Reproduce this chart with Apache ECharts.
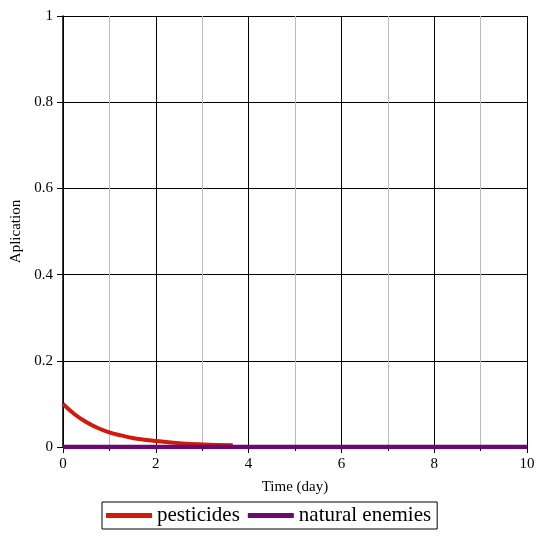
<!DOCTYPE html>
<html>
<head>
<meta charset="utf-8">
<script src="https://cdn.jsdelivr.net/npm/echarts@6/dist/echarts.min.js"></script>
<style>
    html, body {margin: 0; padding: 0; background: #fff;}
    #main {width: 550px; height: 542px;}
</style>
</head>
<body>
<div id="main"></div>
<script>
// 数据
var seriesNames = ['pesticides', 'natural enemies'];
var pestTime = [0, 0.25, 0.5, 0.75, 1, 1.25, 1.5, 1.75, 2, 2.5, 3, 3.66];
var pestValue = [0.100, 0.076, 0.058, 0.044, 0.034, 0.027, 0.021, 0.017, 0.014, 0.009, 0.006, 0.004];
var enemyTime = [0, 10];
var enemyValue = [0, 0];
var yTicks = ['0', '0.2', '0.4', '0.6', '0.8', '1'];

function pairs(xs, ys) {
    var out = [];
    for (var i = 0; i < xs.length; i++) {
        out.push([xs[i], ys[i]]);
    }
    return out;
}

var myChart = echarts.init(document.getElementById('main'));
var font = '"Liberation Serif", "Times New Roman", serif';

var option = {
    animation: false,
    grid: {left: 63, right: 23, top: 16, bottom: 95},
    legend: {
        data: seriesNames,
        left: 102,
        top: 502,
        itemWidth: 46,
        itemHeight: 5,
        itemGap: 8,
        padding: [3, 6, 3, 4],
        borderColor: '#000',
        borderWidth: 1,
        icon: 'rect',
        textStyle: {fontFamily: font, fontSize: 21, color: '#000', padding: [0, 0, 0, 0]}
    },
    xAxis: {
        type: 'value',
        min: 0,
        max: 10,
        interval: 2,
        name: 'Time (day)',
        nameLocation: 'middle',
        nameGap: 33,
        nameTextStyle: {fontFamily: font, fontSize: 15, color: '#000'},
        axisLine: {onZero: false, lineStyle: {color: '#000', width: 1.5}},
        axisTick: {length: 6, lineStyle: {color: '#000'}},
        minorTick: {show: true, splitNumber: 2, length: 4, lineStyle: {color: '#000'}},
        axisLabel: {fontFamily: font, fontSize: 15, color: '#000', margin: 10},
        splitLine: {lineStyle: {color: '#000', width: 1}},
        minorSplitLine: {show: true, lineStyle: {color: '#bbb', width: 1}}
    },
    yAxis: {
        type: 'value',
        min: 0,
        max: 1,
        interval: 0.2,
        name: 'Aplication',
        nameLocation: 'middle',
        nameGap: 36,
        nameTextStyle: {fontFamily: font, fontSize: 15, color: '#000'},
        axisLine: {show: true, lineStyle: {color: '#000', width: 1.5}},
        axisTick: {show: true, length: 6, lineStyle: {color: '#000'}},
        axisLabel: {
            fontFamily: font, fontSize: 15, color: '#000', margin: 10,
            formatter: function (v) {
                return yTicks[Math.round(v * 5)];
            }
        },
        splitLine: {lineStyle: {color: '#000', width: 1}}
    },
    series: [
        {
            name: seriesNames[0],
            type: 'line',
            smooth: true,
            showSymbol: false,
            color: '#d21a0a',
            lineStyle: {width: 4, color: '#d21a0a'},
            data: pairs(pestTime, pestValue)
        },
        {
            name: seriesNames[1],
            type: 'line',
            showSymbol: false,
            color: '#6a0a6e',
            lineStyle: {width: 4.5, color: '#6a0a6e'},
            data: pairs(enemyTime, enemyValue)
        }
    ]
};

myChart.setOption(option);
</script>
</body>
</html>
